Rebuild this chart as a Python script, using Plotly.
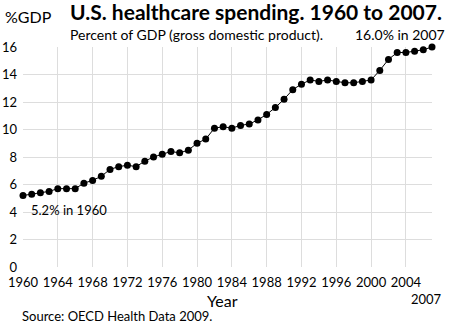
import plotly.graph_objects as go

years = list(range(1960, 2008))
pct_gdp = [5.2, 5.3, 5.4, 5.5, 5.7, 5.7, 5.7, 6.1, 6.3, 6.6,
           7.1, 7.3, 7.4, 7.3, 7.7, 8.0, 8.2, 8.4, 8.3, 8.5,
           9.0, 9.3, 10.1, 10.2, 10.1, 10.3, 10.4, 10.7, 11.1, 11.6,
           12.2, 12.9, 13.3, 13.6, 13.5, 13.6, 13.5, 13.4, 13.4, 13.5,
           13.6, 14.3, 15.1, 15.6, 15.6, 15.7, 15.8, 16.0]
x_ticks = list(range(1960, 2005, 4))
y_ticks = list(range(0, 17, 2))

FONT = "Lato"
L, T, PW, PH = 23, 47, 409, 220

fig = go.Figure()
fig.add_trace(go.Scatter(
    x=years, y=pct_gdp, mode="lines+markers",
    line=dict(color="black", width=1),
    marker=dict(color="black", size=7),
    cliponaxis=False, showlegend=False,
))

fig.update_layout(
    width=450, height=330,
    margin=dict(l=L, r=450 - L - PW, t=T, b=330 - T - PH, autoexpand=False),
    paper_bgcolor="white", plot_bgcolor="white",
    font=dict(family=FONT, color="black", size=13),
    xaxis=dict(range=[1960, 2007], tickvals=x_ticks, ticktext=[str(v) for v in x_ticks],
               showgrid=True, gridcolor="#dddddd", gridwidth=1, zeroline=False,
               showline=False, ticks="", tickfont=dict(size=13), automargin=False,
               ticklabelstandoff=6),
    yaxis=dict(range=[0, 16], tickvals=y_ticks, showgrid=True, gridcolor="#dddddd",
               gridwidth=1, zeroline=False, showline=False, ticks="",
               tickfont=dict(size=13), ticklabelstandoff=5, automargin=False),
)


def px(x):
    return (x - L) / PW


def py(y):
    return (T + PH - y) / PH


annotations = [
    dict(text="<b>U.S. healthcare spending. 1960 to 2007.</b>", x=68, y=12, size=21),
    dict(text="%GDP", x=3, y=17, size=16),
    dict(text="Percent of GDP (gross domestic product).", x=68, y=34, size=14),
    dict(text="Year", x=205, y=300, size=16),
    dict(text="Source: OECD Health Data 2009.", x=20, y=316, size=13),
]
for a in annotations:
    fig.add_annotation(text=a["text"], xref="paper", yref="paper",
                       x=px(a["x"]), y=py(a["y"]),
                       xanchor="left", yanchor="middle", showarrow=False,
                       font=dict(size=a["size"], family=FONT, color="black"))

fig.add_annotation(text="2007", xref="paper", yref="paper", x=px(444),
                   y=py(299), xanchor="right", yanchor="middle",
                   showarrow=False, font=dict(size=13, family=FONT))
fig.add_annotation(text=f"{pct_gdp[-1]:.1f}% in {years[-1]}", x=years[-1], y=pct_gdp[-1],
                   xanchor="right", yanchor="bottom", xshift=15, yshift=2,
                   showarrow=False, font=dict(size=14, family=FONT))
fig.add_annotation(text=f"{pct_gdp[0]:.1f}% in {years[0]}", x=years[0], y=pct_gdp[0],
                   xanchor="left", yanchor="top", xshift=6, yshift=-4,
                   showarrow=False, font=dict(size=13, family=FONT))

fig.write_html("out.html")
